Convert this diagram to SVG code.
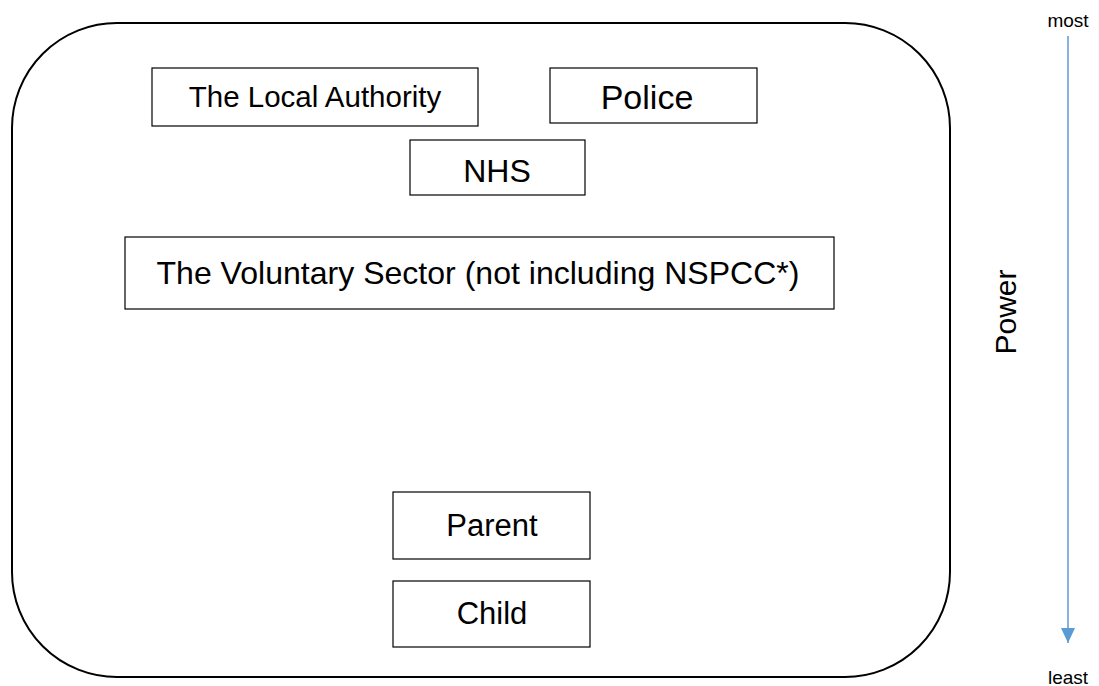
<svg xmlns="http://www.w3.org/2000/svg" width="1099" height="686" viewBox="0 0 1099 686">
<style>
.box{fill:#fff;stroke:#000;stroke-width:1.2}
.t{font-family:"Liberation Sans",Arial,sans-serif;font-size:31px;fill:#000;text-anchor:middle}
.s{font-family:"Liberation Sans",Arial,sans-serif;font-size:19px;fill:#000;text-anchor:middle}
</style>
<defs>
<marker id="ah" markerWidth="15" markerHeight="14" refX="15" refY="7" orient="auto" markerUnits="userSpaceOnUse" viewBox="0 0 15 14">
<path d="M0,0 L15,7 L0,14 Z" fill="#5B9BD5"/>
</marker>
</defs>
<rect id="frame" x="12" y="23" width="938" height="654" rx="105" ry="105" fill="none" stroke="#000" stroke-width="2"/>
<g id="n-la"><rect class="box" x="152" y="68" width="326" height="58"/><text class="t" x="315" y="107" style="font-size:29.5px">The Local Authority</text></g>
<g id="n-police"><rect class="box" x="550" y="68" width="207" height="55"/><text class="t" x="647" y="109" style="font-size:34px">Police</text></g>
<g id="n-nhs"><rect class="box" x="410" y="140" width="175" height="55"/><text class="t" x="497" y="182" style="font-size:32px">NHS</text></g>
<g id="n-vol"><rect class="box" x="125" y="237" width="709" height="72"/><text class="t" x="478" y="284" style="font-size:32px" textLength="643" lengthAdjust="spacingAndGlyphs">The Voluntary Sector (not including NSPCC*)</text></g>
<g id="n-parent"><rect class="box" x="393" y="492" width="197" height="67"/><text class="t" x="492" y="536">Parent</text></g>
<g id="n-child"><rect class="box" x="393" y="581" width="197" height="66"/><text class="t" x="492" y="624">Child</text></g>
<g id="connectors">
<line x1="1068" y1="36" x2="1068" y2="643" stroke="#5B9BD5" stroke-width="1.5" marker-end="url(#ah)"/>
</g>
<text class="s" x="1068" y="27">most</text>
<text class="s" x="1068" y="684">least</text>
<text class="t" transform="translate(1016,312) rotate(-90)" x="0" y="0" style="font-size:30px">Power</text>
</svg>
